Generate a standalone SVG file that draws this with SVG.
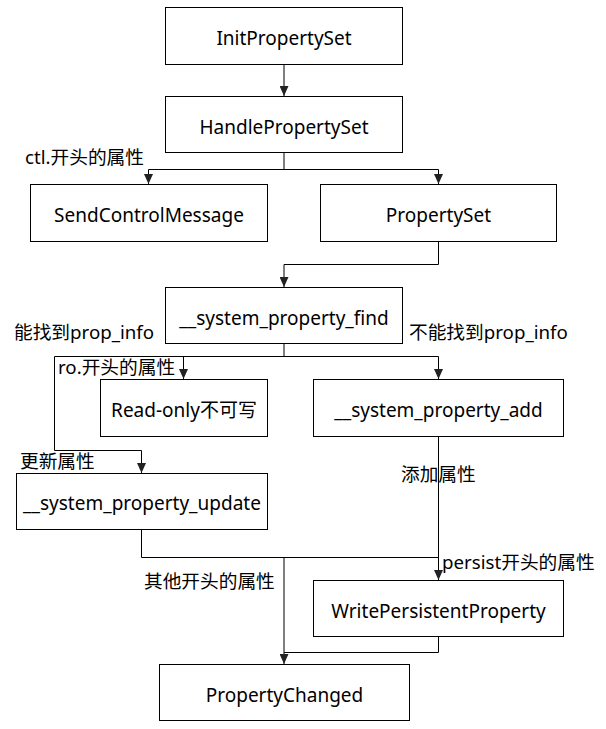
<svg xmlns="http://www.w3.org/2000/svg" width="606" height="729" viewBox="0 0 606 729">
<style>
.box{fill:#fff;stroke:#000;stroke-width:1}
.t{font-family:"Noto Sans","Noto Sans CJK SC",sans-serif;font-size:19px;fill:#000;text-anchor:middle;dominant-baseline:central}
.l{font-family:"Noto Sans","Noto Sans CJK SC",sans-serif;font-size:18.7px;fill:#000;dominant-baseline:central}
.c{fill:none;stroke:#000;stroke-width:1}
</style>
<defs>
<marker id="arr" markerUnits="userSpaceOnUse" markerWidth="10" markerHeight="9" refX="10" refY="4.5" orient="auto">
<path d="M0,0 L10,4.5 L0,9 z" fill="#222"/>
</marker>
</defs>
<rect width="606" height="729" fill="#fff"/>
<g id="connectors">
<path class="c" d="M284,64.5 V96" marker-end="url(#arr)"/>
<path class="c" d="M284,152.5 V169.5 H148.5 V184" marker-end="url(#arr)"/>
<path class="c" d="M284,169.5 H438.5 V184" marker-end="url(#arr)"/>
<path class="c" d="M438.5,241.5 V264.5 H284 V287" marker-end="url(#arr)"/>
<path class="c" d="M284,343.5 V356.5 H54.5 V450.5 H141.5 V473" marker-end="url(#arr)"/>
<path class="c" d="M183.5,356.5 V379" marker-end="url(#arr)"/>
<path class="c" d="M284,356.5 H438.5 V379" marker-end="url(#arr)"/>
<path class="c" d="M438.5,436.5 V580" marker-end="url(#arr)"/>
<path class="c" d="M141.5,529.5 V557.5 H438.5"/>
<path class="c" d="M284,557.5 V664" marker-end="url(#arr)"/>
<path class="c" d="M438.5,636.5 V652.5 H284"/>
</g>
<g id="n1"><rect class="box" x="165.5" y="7.5" width="237" height="57"/><text class="t" x="284" y="37.5">InitPropertySet</text></g>
<g id="n2"><rect class="box" x="165.5" y="96.5" width="237" height="56"/><text class="t" x="284" y="126.5">HandlePropertySet</text></g>
<g id="n3"><rect class="box" x="30.5" y="184.5" width="237" height="57"/><text class="t" x="149" y="214.5">SendControlMessage</text></g>
<g id="n4"><rect class="box" x="320.5" y="184.5" width="236" height="57"/><text class="t" x="438.5" y="214.5">PropertySet</text></g>
<g id="n5"><rect class="box" x="165.5" y="287.5" width="237" height="56"/><text class="t" x="284" y="317.5">__system_property_find</text></g>
<g id="n6"><rect class="box" x="100.5" y="379.5" width="167" height="57"/><text class="t" x="184" y="409.5">Read-only不可写</text></g>
<g id="n7"><rect class="box" x="313.5" y="379.5" width="250" height="57"/><text class="t" x="438.5" y="409.5">__system_property_add</text></g>
<g id="n8"><rect class="box" x="16.5" y="473.5" width="251" height="56"/><text class="t" x="142" y="502.5">__system_property_update</text></g>
<g id="n9"><rect class="box" x="313.5" y="580.5" width="250" height="56"/><text class="t" x="438.5" y="610.5">WritePersistentProperty</text></g>
<g id="n10"><rect class="box" x="159.5" y="664.5" width="250" height="56"/><text class="t" x="284.5" y="694.5">PropertyChanged</text></g>
<g id="labels">
<text class="l" x="25" y="156">ctl.开头的属性</text>
<text class="l" x="14" y="331">能找到prop_info</text>
<text class="l" x="409" y="331">不能找到prop_info</text>
<text class="l" x="58" y="366">ro.开头的属性</text>
<text class="l" x="20" y="460">更新属性</text>
<text class="l" x="401" y="473">添加属性</text>
<text class="l" x="144" y="580">其他开头的属性</text>
<text class="l" x="442" y="561">persist开头的属性</text>
</g>
</svg>
